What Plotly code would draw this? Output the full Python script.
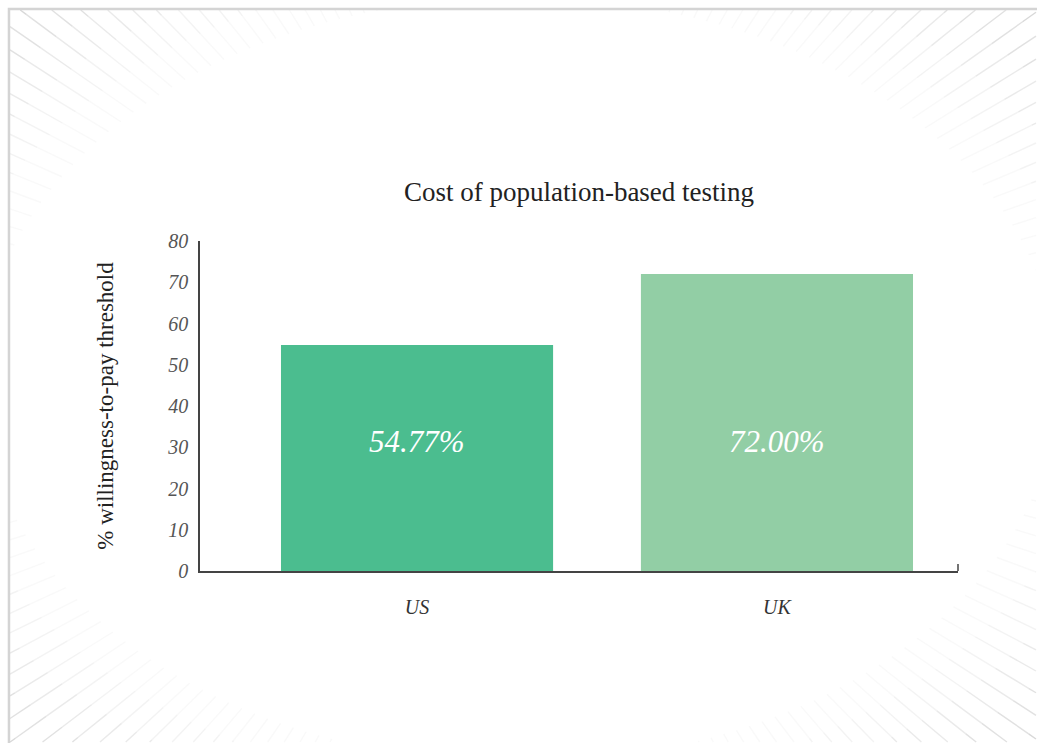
import math
import plotly.graph_objects as go

# ---- data ----
categories = ["US", "UK"]
values = [54.77, 72.00]
bar_colors = ["#4bbd8f", "#92cea5"]
y_ticks = [0, 10, 20, 30, 40, 50, 60, 70, 80]
title_text = "Cost of population-based testing"
y_title = "% willingness-to-pay threshold"

# ---- layout constants ----
W, H = 1037, 743
ML, MR, MT, MB = 200, 79, 241, 172
PW, PH = W - ML - MR, H - MT - MB
FONT = "Liberation Serif"
LABEL_Y = 31.3  # vertical position of value labels (data units)


def px2paper(px, py):
    return (px - ML) / PW, (H - MB - py) / PH


# decorative radial rays in the corners (background styling)
cx, cy = 519, 380
a, b = 620, 440
x0c, y0c, x1c, y1c = 10, 10, W - 1, H - 1
bands = [(0.87, 0.94, 0.1), (0.94, 1.01, 0.22), (1.01, 1.08, 0.38),
         (1.08, 1.15, 0.55), (1.15, 3.0, 0.7)]
n_rays = 200
paths = {i: [] for i in range(len(bands))}
for k in range(n_rays):
    th = 2 * math.pi * k / n_rays + 0.01
    c, s = math.cos(th), math.sin(th)
    tx = ((x1c - cx) / c) if c > 0 else ((x0c - cx) / c if c < 0 else 1e9)
    ty = ((y1c - cy) / s) if s > 0 else ((y0c - cy) / s if s < 0 else 1e9)
    tmax = min(tx, ty)
    norm = math.sqrt((c / a) ** 2 + (s / b) ** 2)
    for i, (s0, s1, al) in enumerate(bands):
        t0, t1 = s0 / norm, min(s1 / norm, tmax)
        if t1 <= t0:
            continue
        p0 = px2paper(cx + t0 * c, cy + t0 * s)
        p1 = px2paper(cx + t1 * c, cy + t1 * s)
        paths[i].append(f"M{p0[0]:.4f},{p0[1]:.4f} L{p1[0]:.4f},{p1[1]:.4f}")

shapes = []
for i, (s0, s1, al) in enumerate(bands):
    if paths[i]:
        shapes.append(dict(type="path", xref="paper", yref="paper",
                           path=" ".join(paths[i]), layer="below",
                           line=dict(color=f"rgba(200,200,200,{al})", width=1.4),
                           fillcolor="rgba(0,0,0,0)"))

# frame: top and left edges only
f0 = px2paper(9, 9)
f1 = px2paper(W, H)
shapes.append(dict(type="path", xref="paper", yref="paper",
                   path=f"M{f1[0]:.4f},{f0[1]:.4f} L{f0[0]:.4f},{f0[1]:.4f} L{f0[0]:.4f},{f1[1]:.4f}",
                   line=dict(color="#d4d4d4", width=2.5), layer="below",
                   fillcolor="rgba(0,0,0,0)"))
# small upturned end tick on x-axis
shapes.append(dict(type="line", xref="paper", yref="paper",
                   x0=1, x1=1, y0=0, y1=7 / PH,
                   line=dict(color="#444444", width=1.5)))

fig = go.Figure()
fig.add_trace(go.Bar(
    x=categories, y=values, marker=dict(color=bar_colors, line=dict(width=0)),
    width=0.756, hoverinfo="x+y", showlegend=False,
))

annotations = []
for cat, v in zip(categories, values):
    annotations.append(dict(
        x=cat, y=LABEL_Y, xref="x", yref="y", text=f"{v:.2f}%",
        showarrow=False, font=dict(family=FONT, size=31, color="white", style="italic"),
    ))

fig.update_layout(
    width=W, height=H,
    margin=dict(l=ML, r=MR, t=MT, b=MB, pad=0),
    paper_bgcolor="white", plot_bgcolor="rgba(0,0,0,0)",
    title=dict(text=title_text, x=(ML + PW / 2) / W, xanchor="center",
               y=1 - 192 / H, yanchor="middle", yref="container",
               font=dict(family=FONT, size=27, color="#222222")),
    shapes=shapes, annotations=annotations,
    xaxis=dict(range=[-0.603, 1.503], showgrid=False, zeroline=False,
               showline=True, linecolor="#444444", linewidth=1.5,
               ticks="outside", ticklen=17, tickcolor="rgba(0,0,0,0)",
               tickfont=dict(family=FONT, size=20, color="#333333", style="italic"),
               fixedrange=True),
    yaxis=dict(range=[0, 80], tickvals=y_ticks, showgrid=False, zeroline=False,
               showline=True, linecolor="#444444", linewidth=1.5,
               ticks="outside", ticklen=6, tickcolor="rgba(0,0,0,0)",
               tickfont=dict(family=FONT, size=20, color="#555555", style="italic"),
               title=dict(text=y_title, standoff=47,
                          font=dict(family=FONT, size=23, color="#222222")),
               fixedrange=True),
)

fig.write_html("out.html", config={"displayModeBar": False},
               post_script="document.body.style.margin='0';"
                           "document.body.style.overflow='hidden';")
